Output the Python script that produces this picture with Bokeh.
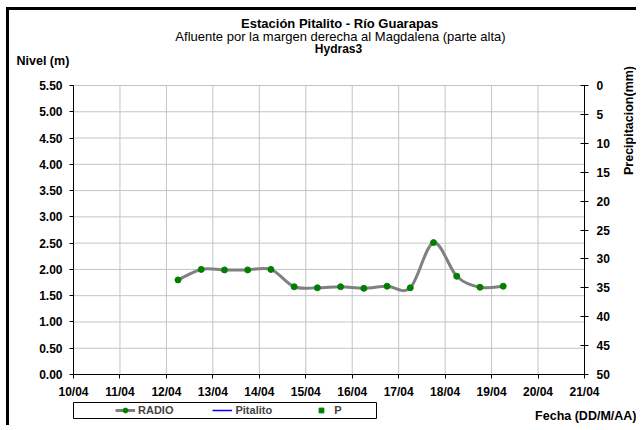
import numpy as np
import pandas as pd
from math import pi
from bokeh.plotting import figure
from bokeh.models import (Range1d, LinearAxis, FixedTicker,
                          DatetimeTickFormatter, NumeralTickFormatter, Legend, LegendItem,
                          Label, BoxAnnotation)
from bokeh.embed import file_html
from bokeh.resources import INLINE

# ---------------- data ----------------
fechas = ["2011-04-12 06:00", "2011-04-12 18:00", "2011-04-13 06:00", "2011-04-13 18:00",
          "2011-04-14 06:00", "2011-04-14 18:00", "2011-04-15 06:00", "2011-04-15 18:00",
          "2011-04-16 06:00", "2011-04-16 18:00", "2011-04-17 06:00", "2011-04-17 18:00",
          "2011-04-18 06:00", "2011-04-18 18:00", "2011-04-19 06:00"]
radio = [1.80, 2.00, 1.99, 1.99, 2.00, 1.67, 1.65, 1.67, 1.64, 1.68, 1.65, 2.51, 1.87, 1.66, 1.68]
pitalito_fechas = []
pitalito = []
p_fechas = []
precipitacion = []
dias_eje = ["2011-04-10", "2011-04-11", "2011-04-12", "2011-04-13", "2011-04-14", "2011-04-15",
            "2011-04-16", "2011-04-17", "2011-04-18", "2011-04-19", "2011-04-20", "2011-04-21"]
nivel_ticks = [0.0, 0.5, 1.0, 1.5, 2.0, 2.5, 3.0, 3.5, 4.0, 4.5, 5.0, 5.5]
precip_ticks = [0, 5, 10, 15, 20, 25, 30, 35, 40, 45, 50]

FONT = "Liberation Sans"


def to_ms(vals):
    if len(vals) == 0:
        return np.array([], dtype=float)
    return pd.to_datetime(pd.Series(vals, dtype="object")).values.astype("datetime64[ms]").astype("int64").astype(float)


X = to_ms(fechas)
Y = np.array(radio, dtype=float)
DIAS = to_ms(dias_eje)
x0, x1 = float(DIAS[0]), float(DIAS[-1])
n0, n1 = nivel_ticks[0], nivel_ticks[-1]
pr0, pr1 = precip_ticks[0], precip_ticks[-1]

# ---------------- geometry (pixels inside the canvas) ----------------
W, H = 630, 418
FL, FR, FT, FB = 64, 575, 75, 364          # chart area inside the canvas
px_x = (x1 - x0) / (FR - FL)
px_y = (n1 - n0) / (FB - FT)
px_p = (pr1 - pr0) / (FB - FT)

p = figure(width=W, height=H, x_axis_type="datetime",
           x_range=Range1d(x0 - FL * px_x, x0 + (W - FL) * px_x),
           y_range=Range1d(n0 - (H - FB) * px_y, n1 + FT * px_y),
           output_backend="svg", toolbar_location=None, title=None,
           min_border=0, min_border_left=0, min_border_right=0,
           min_border_top=0, min_border_bottom=0)
p.styles = {"border-left": "3px solid black", "border-top": "3px solid black",
            "margin-left": "6px", "margin-top": "7px"}
p.outline_line_color = None
p.background_fill_color = "white"
p.border_fill_color = "white"
p.xgrid.grid_line_color = None
p.ygrid.grid_line_color = None

p.extra_y_ranges = {"p": Range1d(start=pr1 + (H - FB) * px_p, end=pr0 - FT * px_p)}

# grid lines from the tick arrays
GRID = "#c4c4c4"
p.segment(x0=DIAS, y0=[n0] * len(DIAS), x1=DIAS, y1=[n1] * len(DIAS), line_color=GRID, line_width=1)
p.segment(x0=[x0] * len(nivel_ticks), y0=nivel_ticks, x1=[x1] * len(nivel_ticks), y1=nivel_ticks,
          line_color=GRID, line_width=1)

# axes
xa = p.xaxis[0]
xa.ticker = FixedTicker(ticks=list(DIAS))
xa.formatter = DatetimeTickFormatter(days="%d/%m", months="%d/%m", hours="%d/%m")
xa.fixed_location = n0
xa.bounds = (x0, x1)
ya = p.yaxis[0]
ya.ticker = FixedTicker(ticks=nivel_ticks)
ya.formatter = NumeralTickFormatter(format="0.00")
ya.fixed_location = x0
ya.bounds = (n0, n1)
ra = LinearAxis(y_range_name="p", ticker=FixedTicker(ticks=precip_ticks))
ra.fixed_location = x1
ra.bounds = (pr0, pr1)
p.add_layout(ra, "right")

for ax in (xa, ya, ra):
    ax.axis_line_color = "black"
    ax.major_tick_line_color = "black"
    ax.minor_tick_line_color = None
    ax.major_tick_in = 0
    ax.major_tick_out = 4
    ax.major_label_text_font = FONT
    ax.major_label_text_font_style = "bold"
    ax.major_label_text_font_size = "12px"
    ax.major_label_text_color = "black"
xa.major_label_standoff = 6
ya.major_label_standoff = 7
ra.major_tick_in = 4
ra.major_label_standoff = 8

# smoothed RADIO line (Bezier segments, Catmull-Rom style control points)
n = len(X)
bx0, by0, bx1, by1, cx0, cy0, cx1, cy1 = [], [], [], [], [], [], [], []
for i in range(n - 1):
    xm, ym = (X[i - 1], Y[i - 1]) if i > 0 else (X[i], Y[i])
    xp, yp = (X[i + 2], Y[i + 2]) if i + 2 < n else (X[i + 1], Y[i + 1])
    bx0.append(X[i]); by0.append(Y[i]); bx1.append(X[i + 1]); by1.append(Y[i + 1])
    cx0.append(X[i] + (X[i + 1] - xm) / 6.0); cy0.append(Y[i] + (Y[i + 1] - ym) / 6.0)
    cx1.append(X[i + 1] - (xp - X[i]) / 6.0); cy1.append(Y[i + 1] - (yp - Y[i]) / 6.0)
p.bezier(x0=bx0, y0=by0, x1=bx1, y1=by1, cx0=cx0, cy0=cy0, cx1=cx1, cy1=cy1,
         line_color="#808080", line_width=3)
radio_pts = p.scatter(X, Y, size=6, color="#008000")

# series without visible values (drawn from their, here empty, arrays)
p.line(x=to_ms(pitalito_fechas), y=pitalito, line_color="#0000ff", line_width=1.5)
p.scatter(x=to_ms(p_fechas), y=precipitacion, y_range_name="p",
          marker="square", size=2, color="#008000")

# legend swatches (no visible data point: NaN)
nan = [float("nan")]
leg_radio = p.line(x=nan, y=nan, line_color="#808080", line_width=3)
leg_pit = p.line(x=nan, y=nan, line_color="#0000ff", line_width=1.5)
leg_p = p.scatter(x=nan, y=nan, marker="square", size=2, color="#008000")

legend = Legend(items=[LegendItem(label="RADIO", renderers=[leg_radio, radio_pts]),
                       LegendItem(label="Pitalito", renderers=[leg_pit]),
                       LegendItem(label="P", renderers=[leg_p])],
                orientation="horizontal", location=(FL + 40, 10), margin=0, padding=2,
                glyph_width=20, glyph_height=12, label_height=12, label_standoff=3, spacing=39,
                border_line_alpha=0, background_fill_alpha=0,
                label_text_font=FONT, label_text_font_style="bold", label_text_font_size="11px")
p.add_layout(legend, "center")

# page coordinates of chart area: left 73, top 85, bottom 374
def dx(sx):
    return x0 + (sx - 73) * px_x


def dy(sy):
    return n0 + (374 - sy) * px_y


p.add_layout(BoxAnnotation(left=dx(73), right=dx(376), top=dy(402), bottom=dy(418),
                           fill_alpha=0, line_color="black", line_alpha=1.0, line_width=1))


def lab(text, sx, sy, size, style="bold", align="center", angle=0.0):
    p.add_layout(Label(x=dx(sx), y=dy(sy), text=text,
                       text_font=FONT, text_font_style=style, text_font_size=size,
                       text_align=align, text_baseline="middle", angle=angle, text_color="black"))


lab("Estación Pitalito  - Río Guarapas", 341, 23, "13px")
lab("Afluente por la margen derecha al Magdalena (parte alta)", 340, 36, "13px", style="normal")
lab("Hydras3", 338, 48, "12px")
lab("Nivel (m)", 16, 60, "12.5px", align="left")
lab("Precipitacion(mm)", 628, 120, "12.5px", angle=pi / 2)
lab("Fecha (DD/M/AA)", 636, 415, "12.5px", align="right")

open("out.html", "w").write(file_html(p, INLINE))
